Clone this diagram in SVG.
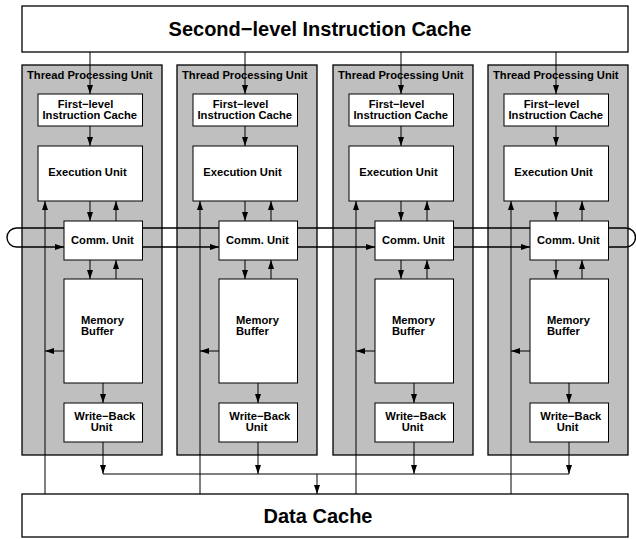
<svg xmlns="http://www.w3.org/2000/svg" width="636" height="539" viewBox="0 0 636 539">
  <defs>
    <marker id="arrow" markerUnits="userSpaceOnUse" markerWidth="9" markerHeight="6" refX="9" refY="3" orient="auto">
      <path d="M0,0 L9,3 L0,6 z" fill="#000"/>
    </marker>
    <style>
      .cache { fill: #fff; stroke: #000; stroke-width: 1.3; }
      .tpu { fill: #bfbfbf; stroke: #000; stroke-width: 1.3; }
      .box { fill: #fff; stroke: #000; stroke-width: 1; }
      .big { font-family: "Liberation Sans", Arial, sans-serif; font-weight: bold; font-size: 20px; fill: #000; }
      .lbl { font-family: "Liberation Sans", Arial, sans-serif; font-weight: bold; font-size: 11.2px; fill: #000; }
      .mid { text-anchor: middle; }
      .wire { fill: none; stroke: #000; stroke-width: 1; }
      .ring { fill: none; stroke: #000; stroke-width: 1.4; }
      .arr { marker-end: url(#arrow); }
    </style>
  </defs>

  <rect width="636" height="539" fill="#fff"/>

  <!-- shared instruction cache -->
  <g id="l2-icache">
    <rect class="cache" x="22" y="6" width="606" height="46"/>
    <text class="big mid" x="320" y="36">Second−level Instruction Cache</text>
  </g>

  <!-- data cache -->
  <g id="data-cache">
    <rect class="cache" x="22" y="494" width="606" height="43"/>
    <text class="big mid" x="318" y="523">Data Cache</text>
  </g>

  <!-- thread processing units -->
  <g id="tpu-1">
    <rect class="tpu" x="22" y="65" width="140" height="390"/>
    <text class="lbl" x="27" y="79">Thread Processing Unit</text>
    <g id="tpu-1-icache"><rect class="box" x="38" y="94" width="104.5" height="32"/><text class="lbl" x="57.7" y="107.8">First−level</text><text class="lbl" x="42.5" y="118.8">Instruction Cache</text></g>
    <g id="tpu-1-exec"><rect class="box" x="38" y="146" width="104.5" height="55"/><text class="lbl" x="48.3" y="175.8">Execution Unit</text></g>
    <g id="tpu-1-comm"><rect class="box" x="64" y="221" width="78.5" height="39"/><text class="lbl" x="71" y="243.5">Comm. Unit</text></g>
    <g id="tpu-1-membuf"><rect class="box" x="64" y="279" width="78.5" height="104"/><text class="lbl" x="81" y="324">Memory</text><text class="lbl" x="81" y="335">Buffer</text></g>
    <g id="tpu-1-wb"><rect class="box" x="64" y="403" width="78.5" height="39"/><text class="lbl" x="74.3" y="420">Write−Back</text><text class="lbl" x="90.7" y="430.8">Unit</text></g>
  </g>
  <g id="tpu-2" transform="translate(155,0)">
    <rect class="tpu" x="22" y="65" width="140" height="390"/>
    <text class="lbl" x="27" y="79">Thread Processing Unit</text>
    <g id="tpu-2-icache"><rect class="box" x="38" y="94" width="104.5" height="32"/><text class="lbl" x="57.7" y="107.8">First−level</text><text class="lbl" x="42.5" y="118.8">Instruction Cache</text></g>
    <g id="tpu-2-exec"><rect class="box" x="38" y="146" width="104.5" height="55"/><text class="lbl" x="48.3" y="175.8">Execution Unit</text></g>
    <g id="tpu-2-comm"><rect class="box" x="64" y="221" width="78.5" height="39"/><text class="lbl" x="71" y="243.5">Comm. Unit</text></g>
    <g id="tpu-2-membuf"><rect class="box" x="64" y="279" width="78.5" height="104"/><text class="lbl" x="81" y="324">Memory</text><text class="lbl" x="81" y="335">Buffer</text></g>
    <g id="tpu-2-wb"><rect class="box" x="64" y="403" width="78.5" height="39"/><text class="lbl" x="74.3" y="420">Write−Back</text><text class="lbl" x="90.7" y="430.8">Unit</text></g>
  </g>
  <g id="tpu-3" transform="translate(311,0)">
    <rect class="tpu" x="22" y="65" width="140" height="390"/>
    <text class="lbl" x="27" y="79">Thread Processing Unit</text>
    <g id="tpu-3-icache"><rect class="box" x="38" y="94" width="104.5" height="32"/><text class="lbl" x="57.7" y="107.8">First−level</text><text class="lbl" x="42.5" y="118.8">Instruction Cache</text></g>
    <g id="tpu-3-exec"><rect class="box" x="38" y="146" width="104.5" height="55"/><text class="lbl" x="48.3" y="175.8">Execution Unit</text></g>
    <g id="tpu-3-comm"><rect class="box" x="64" y="221" width="78.5" height="39"/><text class="lbl" x="71" y="243.5">Comm. Unit</text></g>
    <g id="tpu-3-membuf"><rect class="box" x="64" y="279" width="78.5" height="104"/><text class="lbl" x="81" y="324">Memory</text><text class="lbl" x="81" y="335">Buffer</text></g>
    <g id="tpu-3-wb"><rect class="box" x="64" y="403" width="78.5" height="39"/><text class="lbl" x="74.3" y="420">Write−Back</text><text class="lbl" x="90.7" y="430.8">Unit</text></g>
  </g>
  <g id="tpu-4" transform="translate(466,0)">
    <rect class="tpu" x="22" y="65" width="140" height="390"/>
    <text class="lbl" x="27" y="79">Thread Processing Unit</text>
    <g id="tpu-4-icache"><rect class="box" x="38" y="94" width="104.5" height="32"/><text class="lbl" x="57.7" y="107.8">First−level</text><text class="lbl" x="42.5" y="118.8">Instruction Cache</text></g>
    <g id="tpu-4-exec"><rect class="box" x="38" y="146" width="104.5" height="55"/><text class="lbl" x="48.3" y="175.8">Execution Unit</text></g>
    <g id="tpu-4-comm"><rect class="box" x="64" y="221" width="78.5" height="39"/><text class="lbl" x="71" y="243.5">Comm. Unit</text></g>
    <g id="tpu-4-membuf"><rect class="box" x="64" y="279" width="78.5" height="104"/><text class="lbl" x="81" y="324">Memory</text><text class="lbl" x="81" y="335">Buffer</text></g>
    <g id="tpu-4-wb"><rect class="box" x="64" y="403" width="78.5" height="39"/><text class="lbl" x="74.3" y="420">Write−Back</text><text class="lbl" x="90.7" y="430.8">Unit</text></g>
  </g>

  <!-- connectors -->
  <g id="connectors">
    <!-- per-unit wiring, repeated for each TPU -->
    <g id="wires-1">
      <path class="wire arr" d="M90,52 V94"/>
      <path class="wire arr" d="M90,126 V146"/>
      <path class="wire arr" d="M90,201 V221"/>
      <path class="wire arr" d="M116,221 V201"/>
      <path class="wire arr" d="M90,260 V279"/>
      <path class="wire arr" d="M116,279 V260"/>
      <path class="wire arr" d="M103,383 V403"/>
      <path class="wire arr" d="M103,442 V474"/>
      <path class="wire arr" d="M64,351 H45"/>
      <path class="wire arr" d="M45,494 V201"/>
    </g>
    <g id="wires-2" transform="translate(155,0)">
      <path class="wire arr" d="M90,52 V94"/>
      <path class="wire arr" d="M90,126 V146"/>
      <path class="wire arr" d="M90,201 V221"/>
      <path class="wire arr" d="M116,221 V201"/>
      <path class="wire arr" d="M90,260 V279"/>
      <path class="wire arr" d="M116,279 V260"/>
      <path class="wire arr" d="M103,383 V403"/>
      <path class="wire arr" d="M103,442 V474"/>
      <path class="wire arr" d="M64,351 H45"/>
      <path class="wire arr" d="M45,494 V201"/>
    </g>
    <g id="wires-3" transform="translate(311,0)">
      <path class="wire arr" d="M90,52 V94"/>
      <path class="wire arr" d="M90,126 V146"/>
      <path class="wire arr" d="M90,201 V221"/>
      <path class="wire arr" d="M116,221 V201"/>
      <path class="wire arr" d="M90,260 V279"/>
      <path class="wire arr" d="M116,279 V260"/>
      <path class="wire arr" d="M103,383 V403"/>
      <path class="wire arr" d="M103,442 V474"/>
      <path class="wire arr" d="M64,351 H45"/>
      <path class="wire arr" d="M45,494 V201"/>
    </g>
    <g id="wires-4" transform="translate(466,0)">
      <path class="wire arr" d="M90,52 V94"/>
      <path class="wire arr" d="M90,126 V146"/>
      <path class="wire arr" d="M90,201 V221"/>
      <path class="wire arr" d="M116,221 V201"/>
      <path class="wire arr" d="M90,260 V279"/>
      <path class="wire arr" d="M116,279 V260"/>
      <path class="wire arr" d="M103,383 V403"/>
      <path class="wire arr" d="M103,442 V474"/>
      <path class="wire arr" d="M64,351 H45"/>
      <path class="wire arr" d="M45,494 V201"/>
    </g>

    <!-- write-back bus into the data cache -->
    <path class="wire" d="M103,474 H569"/>
    <path class="wire arr" d="M317,474 V494"/>

    <!-- communication ring: forward on the lower line, return on the upper line -->
    <path class="ring arr" d="M64,228 H16.5 A9.5,9.5 0 0 0 16.5,247 H64"/>
    <path class="ring" d="M142.5,228 H219"/>
    <path class="ring arr" d="M142.5,247 H219"/>
    <path class="ring" d="M297.5,228 H375"/>
    <path class="ring arr" d="M297.5,247 H375"/>
    <path class="ring" d="M453.5,228 H530"/>
    <path class="ring arr" d="M453.5,247 H530"/>
    <path class="ring" d="M608.5,247 H626 A9.5,9.5 0 0 0 626,228 H608.5"/>
  </g>
</svg>
